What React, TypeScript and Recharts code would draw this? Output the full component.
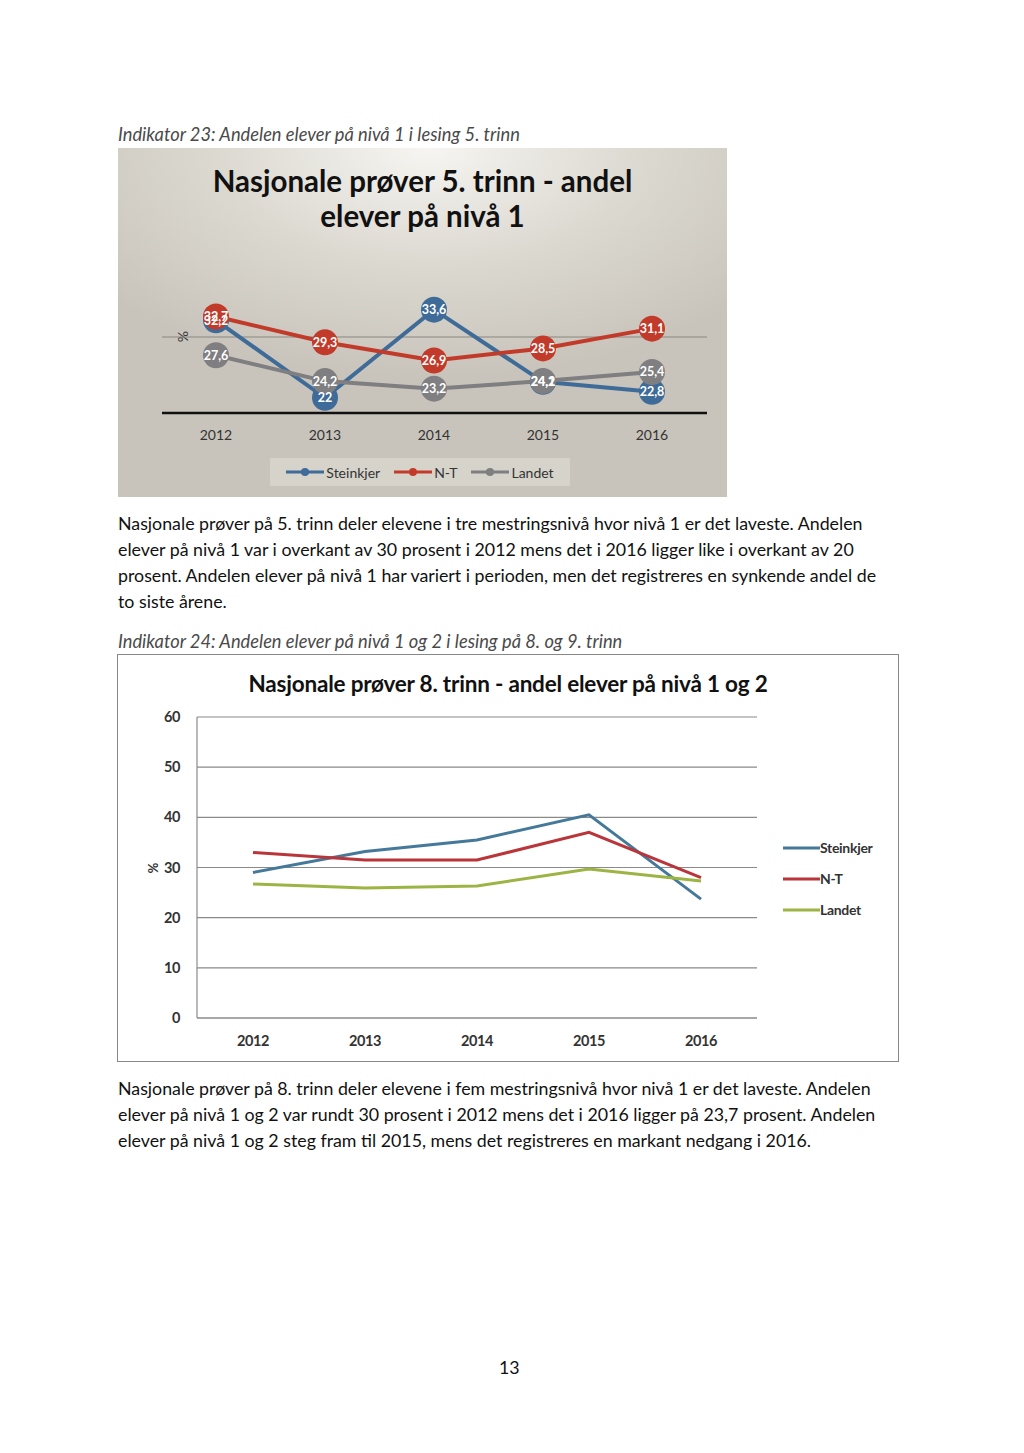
import React from "react";
import { LineChart, Line, XAxis, YAxis, CartesianGrid, LabelList, ReferenceLine } from "recharts";

const years = ["2012", "2013", "2014", "2015", "2016"];

// 5. trinn, andel på nivå 1
const steinkjer5 = [32.2, 22, 33.6, 24.1, 22.8];
const nt5 = [32.7, 29.3, 26.9, 28.5, 31.1];
const landet5 = [27.6, 24.2, 23.2, 24.2, 25.4];
const y5Ticks = [20, 30, 40];

// 8. trinn, andel på nivå 1 og 2
const steinkjer8 = [29, 33.2, 35.5, 40.5, 23.7];
const nt8 = [33, 31.5, 31.5, 37, 28];
const landet8 = [26.7, 25.9, 26.3, 29.7, 27.3];
const y8Ticks = [0, 10, 20, 30, 40, 50, 60];

const para1 = [
  "Nasjonale prøver på 5. trinn deler elevene i tre mestringsnivå hvor nivå 1 er det laveste. Andelen",
  "elever på nivå 1 var i overkant av 30 prosent i 2012 mens det i 2016 ligger like i overkant av 20",
  "prosent. Andelen elever på nivå 1 har variert i perioden, men det registreres en synkende andel de",
  "to siste årene.",
];
const para2 = [
  "Nasjonale prøver på 8. trinn deler elevene i fem mestringsnivå hvor nivå 1 er det laveste. Andelen",
  "elever på nivå 1 og 2 var rundt 30 prosent i 2012 mens det i 2016 ligger på 23,7 prosent. Andelen",
  "elever på nivå 1 og 2 steg fram til 2015, mens det registreres en markant nedgang i 2016.",
];

const C5 = { steinkjer: "#3f6b98", nt: "#c23b2a", landet: "#7f7e80" };
const C8 = { steinkjer: "#45799a", nt: "#b9353a", landet: "#9cb443" };

const data5 = years.map((y, i) => ({ year: y, steinkjer: steinkjer5[i], nt: nt5[i], landet: landet5[i] }));
const data8 = years.map((y, i) => ({ year: y, steinkjer: steinkjer8[i], nt: nt8[i], landet: landet8[i] }));

const comma = (v: unknown) => String(v).replace(".", ",");
const BODY = "Lato, 'Open Sans', sans-serif";

function TextLines({ lines, top, italic }: { lines: string[]; top: number; italic?: boolean }) {
  return (
    <>
      {lines.map((t, i) => (
        <div
          key={i}
          style={{
            position: "absolute", left: 118, top: top + i * 26, whiteSpace: "nowrap",
            fontFamily: BODY, fontSize: italic ? 18.3 : 17.8, color: italic ? "#4a4a4a" : "#111",
            fontStyle: italic ? "italic" : "normal",
          }}
        >
          {t}
        </div>
      ))}
    </>
  );
}

function Chart5() {
  const series = [
    { key: "steinkjer", color: C5.steinkjer },
    { key: "landet", color: C5.landet },
    { key: "nt", color: C5.nt },
  ];
  const legend = [
    { name: "Steinkjer", color: C5.steinkjer },
    { name: "N-T", color: C5.nt },
    { name: "Landet", color: C5.landet },
  ];
  return (
    <div
      style={{
        position: "absolute", left: 118, top: 148, width: 609, height: 349, overflow: "hidden",
        background: "radial-gradient(ellipse 420px 230px at 310px 0px, #f6f5f1 0%, #dcd9d1 50%, #c8c4bb 100%)",
      }}
    >
      <div style={{ position: "absolute", left: 0, top: 15, width: 609, textAlign: "center", fontFamily: BODY, fontWeight: 700, fontSize: 29.5, lineHeight: "35px", color: "#111" }}>
        Nasjonale prøver 5. trinn - andel
        <br />
        elever på nivå 1
      </div>
      <div style={{ position: "absolute", left: 60, top: 180, transform: "rotate(90deg)", fontFamily: BODY, fontSize: 14, color: "#333" }}>%</div>
      <LineChart width={609} height={349} data={data5} margin={{ top: 113, right: 20, bottom: 54, left: 44 }}>
        <XAxis
          dataKey="year"
          height={30}
          padding={{ left: 54, right: 55 }}
          tickLine={false}
          axisLine={{ stroke: "#111", strokeWidth: 2.5 }}
          tickMargin={11}
          tick={{ fontSize: 14, fill: "#333", fontFamily: BODY }}
        />
        <YAxis hide domain={[20, 40]} ticks={y5Ticks} />
        <ReferenceLine y={30} stroke="#8a8780" strokeWidth={1} />
        {series.map((s) => (
          <Line
            key={s.key}
            dataKey={s.key}
            stroke={s.color}
            strokeWidth={4}
            dot={{ r: 13, fill: s.color, stroke: s.color, strokeWidth: 0 }}
            activeDot={false}
            isAnimationActive={false}
          >
            <LabelList dataKey={s.key} position="center" fill="#fff" fontSize={12.5} fontWeight={700} fontFamily={BODY} formatter={comma} />
          </Line>
        ))}
      </LineChart>
      <div
        style={{
          position: "absolute", left: 152, top: 310, width: 300, height: 28, background: "#d6d3cb",
          display: "flex", alignItems: "center", justifyContent: "center", gap: 14,
          fontFamily: BODY, fontSize: 14, color: "#333",
        }}
      >
        {legend.map((l) => (
          <div key={l.name} style={{ display: "flex", alignItems: "center", gap: 2 }}>
            <svg width={38} height={10}>
              <line x1={0} y1={5} x2={38} y2={5} stroke={l.color} strokeWidth={3} />
              <circle cx={19} cy={5} r={4} fill={l.color} />
            </svg>
            <span>{l.name}</span>
          </div>
        ))}
      </div>
    </div>
  );
}

function Chart8() {
  const series = [
    { key: "steinkjer", name: "Steinkjer", color: C8.steinkjer },
    { key: "nt", name: "N-T", color: C8.nt },
    { key: "landet", name: "Landet", color: C8.landet },
  ];
  const tickStyle = { fontSize: 14.5, fill: "#333", fontFamily: BODY, fontWeight: 700, letterSpacing: -0.4 };
  return (
    <div style={{ position: "absolute", left: 117, top: 654, width: 780, height: 406, border: "1px solid #888", background: "#fff" }}>
      <div style={{ position: "absolute", left: 0, top: 15, width: 780, textAlign: "center", fontFamily: BODY, fontWeight: 700, fontSize: 22.5, letterSpacing: -0.2, color: "#111" }}>
        Nasjonale prøver 8. trinn - andel elever på nivå 1 og 2
      </div>
      <div style={{ position: "absolute", left: 30, top: 205, transform: "rotate(90deg)", fontFamily: BODY, fontWeight: 700, fontSize: 13, color: "#333" }}>%</div>
      <LineChart width={780} height={406} data={data8} margin={{ top: 62, right: 141, bottom: 13, left: 0 }}>
        <CartesianGrid vertical={false} stroke="#8a8a8a" strokeWidth={1.2} />
        <XAxis
          dataKey="year"
          height={30}
          padding={{ left: 56, right: 56 }}
          tickLine={false}
          axisLine={{ stroke: "#8a8a8a", strokeWidth: 1.2 }}
          tickMargin={12}
          tick={tickStyle}
        />
        <YAxis
          width={79}
          domain={[0, 60]}
          ticks={y8Ticks}
          tickLine={false}
          axisLine={{ stroke: "#8a8a8a", strokeWidth: 1.2 }}
          tickMargin={11}
          tick={tickStyle}
        />
        {series.map((s) => (
          <Line key={s.key} dataKey={s.key} stroke={s.color} strokeWidth={3} dot={false} activeDot={false} isAnimationActive={false} />
        ))}
      </LineChart>
      {series.map((s, i) => (
        <div key={s.key} style={{ position: "absolute", left: 665, top: 184 + i * 31, display: "flex", alignItems: "center", fontFamily: BODY, fontWeight: 700, fontSize: 14, letterSpacing: -0.3, color: "#333" }}>
          <svg width={37} height={8}>
            <line x1={0} y1={4} x2={37} y2={4} stroke={s.color} strokeWidth={3} />
          </svg>
          <span>{s.name}</span>
        </div>
      ))}
    </div>
  );
}

export default function App() {
  return (
    <div style={{ position: "absolute", left: 0, top: 0, width: 1024, height: 1453, background: "#fff", overflow: "hidden" }}>
      <TextLines lines={["Indikator 23: Andelen elever på nivå 1 i lesing 5. trinn"]} top={123} italic />
      <Chart5 />
      <TextLines lines={para1} top={512} />
      <TextLines lines={["Indikator 24: Andelen elever på nivå 1 og 2 i lesing på 8. og 9. trinn"]} top={630} italic />
      <Chart8 />
      <TextLines lines={para2} top={1077} />
      <div style={{ position: "absolute", left: 499, top: 1356, fontFamily: BODY, fontSize: 17.8, color: "#111" }}>13</div>
    </div>
  );
}
